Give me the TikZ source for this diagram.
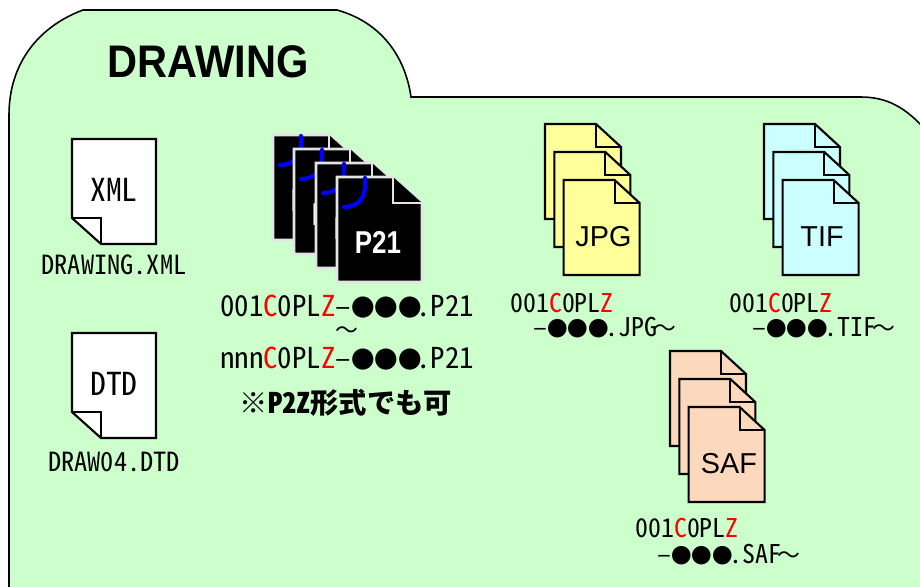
\documentclass[tikz,border=0pt]{standalone}
\usepackage{fontspec}
\setmainfont{Liberation Sans}
\newfontfamily\gothic[RawFeature=+hwid]{Noto Sans CJK JP}
\newfontfamily\widegothic{Noto Sans CJK JP}
\newfontfamily\titlefont[FakeStretch=0.91]{Liberation Sans}
\newfontfamily\narrowfont[FakeStretch=0.82]{Liberation Sans}
\definecolor{folder}{HTML}{CCFFCC}
\definecolor{jpgfill}{HTML}{FFFF99}
\definecolor{tiffill}{HTML}{CCFFFF}
\definecolor{saffill}{HTML}{FCD9BD}
\definecolor{p21edge}{HTML}{E4E4E4}
\newcommand{\blobs}[1]{{\fontsize{#1}{#1}\selectfont ●●●}}
\newcommand{\redc}[1]{\textcolor{red}{#1}}
\newcommand{\wave}{\kern-2.2pt{\widegothic\fontsize{13}{13}\selectfont 〜}}
\tikzset{
  sheet/.style={draw=black, line width=1.2pt, line join=miter},
  p21sheet/.style={draw=p21edge, fill=black, line width=1.5pt},
  fname/.style={anchor=base west, inner sep=0pt, font=\gothic\fontsize{14.7}{14.7}\selectfont},
  fnamebig/.style={anchor=base west, inner sep=0pt, font=\gothic\fontsize{16.4}{16.4}\selectfont},
  ftype/.style={inner sep=0pt, font=\gothic\fontsize{18}{18}\selectfont},
  bigtype/.style={inner sep=0pt, font=\fontsize{16.4}{16.4}\selectfont}
}
\begin{document}
\begin{tikzpicture}[x=.02cm, y=-.02cm]
  \useasboundingbox (0,0) rectangle (920,587);

  % folder
  \draw[fill=folder, line width=.9pt] (9,600) -- (9,115)
    .. controls (9,62) and (40,26) .. (83,10) -- (337,10)
    .. controls (380,22) and (405,55) .. (411,97) -- (860,97)
    .. controls (885,97) and (905,105) .. (930,135) -- (930,600) -- cycle;
  \node[inner sep=0pt, font=\titlefont\bfseries\fontsize{26}{26}\selectfont] (title) at (208,62) {DRAWING};

  % xml and dtd sheets
  \foreach \oy/\ftxt in {139/XML,333/DTD} {
    \draw[sheet, fill=white] (72,\oy) -- ++(84,0) -- ++(0,105) -- ++(-55,0) -- ++(-29,-26) -- cycle;
    \draw[sheet] (72,\oy+79) -- ++(29,0) -- ++(0,26);
    \node[ftype] (label\ftxt) at (114,\oy+51) {\ftxt};
  }
  \node[inner sep=0pt, font=\gothic\fontsize{15}{15}\selectfont] (xmlname) at (114,265) {DRAWING.XML};
  \node[inner sep=0pt, font=\gothic\fontsize{15}{15}\selectfont] (dtdname) at (114,462) {DRAW04.DTD};

  % p21 sheets
  \foreach \ox/\oy in {273/135,294/149,316/163,337/177} {
    \draw[p21sheet] (\ox,\oy) -- ++(56,0) -- ++(29,26) -- ++(0,79) -- ++(-85,0) -- cycle;
    \draw[p21sheet] (\ox+56,\oy) -- ++(0,26) -- ++(29,0);
    \draw[blue, line width=2.4pt, line cap=round] (\ox+28,\oy+1) -- (\ox+28,\oy+8)
      .. controls (\ox+28,\oy+24) and (\ox+18,\oy+30) .. (\ox+7,\oy+30);
    \node[inner sep=0pt, text=white, font=\narrowfont\bfseries\fontsize{18}{18}\selectfont] (p21label\ox) at (\ox+41,\oy+65) {P21};
  }
  \node[fnamebig] (p21first) at (220,317) {001\redc{C}0PL\redc{Z}–\blobs{13.4}\kern-3pt.P21};
  \node[inner sep=0pt, font=\widegothic\fontsize{13}{13}\selectfont] (p21tilde) at (347,333) {〜};
  \node[fnamebig] (p21last) at (220,369) {nnn\redc{C}0PL\redc{Z}–\blobs{13.4}\kern-3pt.P21};
  \node[inner sep=0pt, font=\gothic\bfseries\fontsize{16.1}{16.1}\selectfont] (p2znote) at (346,403) {※P2Z形式でも可};

  % jpg, tif and saf sheets
  \foreach \ox/\oy/\col in {545/124/jpgfill,764/124/tiffill,670/351/saffill} {
    \foreach \dx/\dy in {0/0,9.3/28,18.6/56} {
      \draw[sheet, fill=\col] (\ox+\dx,\oy+\dy) -- ++(51,0) -- ++(25,23) -- ++(0,72) -- ++(-76,0) -- cycle;
      \draw[sheet] (\ox+\dx+51,\oy+\dy) -- ++(0,23) -- ++(25,0);
    }
  }
  \node[bigtype] (jpglabel) at (603.5,237) {JPG};
  \node[bigtype] (tiflabel) at (822,237) {TIF};
  \node[bigtype] (saflabel) at (729,464) {SAF};

  % names below
  \node[fname] (jpgfirst) at (510,313) {001\redc{C}0PL\redc{Z}};
  \node[fname] (jpglast) at (533,337) {–\blobs{11.7}\kern-2pt.JPG\wave};
  \node[fname] (tiffirst) at (729,313) {001\redc{C}0PL\redc{Z}};
  \node[fname] (tiflast) at (752,337) {–\blobs{11.7}\kern-2pt.TIF\wave};
  \node[fname] (saffirst) at (635,538) {001\redc{C}0PL\redc{Z}};
  \node[fname] (saflast) at (657,563) {–\blobs{11.7}\kern-2pt.SAF\wave};
\end{tikzpicture}
\end{document}
